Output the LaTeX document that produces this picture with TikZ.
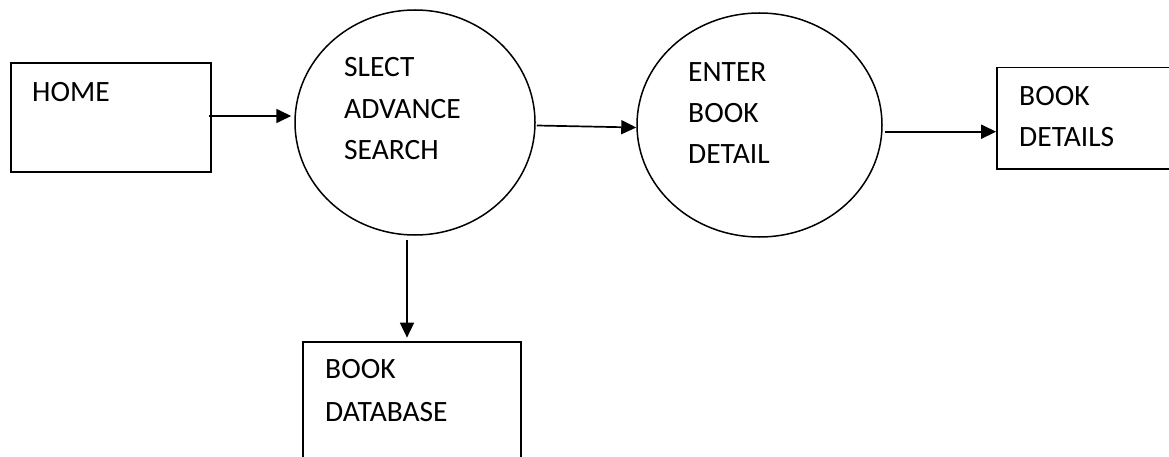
\documentclass[tikz,border=0pt]{standalone}
\usepackage{fontspec}
\setmainfont{Carlito}
\usetikzlibrary{arrows.meta,shapes.geometric}
\begin{document}
\begin{tikzpicture}[x=1pt,y=-1pt,
  box/.style={draw, line width=1.7pt, rectangle, inner sep=0pt},
  proc/.style={draw, line width=1.5pt, ellipse, inner sep=0pt},
  txt/.style={anchor=base west, inner sep=0pt, font=\fontsize{29.5}{41}\selectfont},
  arr/.style={line width=1.7pt, -{Triangle[length=15pt,width=14pt]}}]
\useasboundingbox (0,0) rectangle (1169,457);
% shapes
\node[box, minimum width=200pt, minimum height=108.5pt] (home) at (111,117.5) {};
\node[proc, minimum width=240pt, minimum height=225pt] (e1) at (415,122.5) {};
\node[proc, minimum width=245pt, minimum height=224pt] (e2) at (759.5,125) {};
\node[box, minimum width=175pt, minimum height=101.5pt] (det) at (1084.5,118.3) {};
\node[box, minimum width=218pt, minimum height=130pt] (db) at (412,407) {};
% texts
\node[txt] (thome) at (32,101.7) {HOME};
\node[txt] (ta1) at (344,76.7) {SLECT};
\node[txt] (ta2) at (344,118.3) {ADVANCE};
\node[txt] (ta3) at (344,159.3) {SEARCH};
\node[txt] (tb1) at (688,81.7) {ENTER};
\node[txt] (tb2) at (688,122.3) {BOOK};
\node[txt] (tb3) at (688,163.3) {DETAIL};
\node[txt] (tc1) at (1019,106) {BOOK};
\node[txt] (tc2) at (1019,146.7) {DETAILS};
\node[txt] (td1) at (325,378) {BOOK};
\node[txt] (td2) at (325,421.7) {DATABASE};
% connectors
\draw[arr] ([xshift=-3pt,yshift=1.5pt]home.east) -- ([xshift=-3pt,yshift=1.5pt]home.east -| e1.west);
\draw[arr] ([xshift=1pt,yshift=-3pt]e1.east) -- ([yshift=-2.5pt]e2.west);
\draw[arr] ([xshift=2pt,yshift=-6.7pt]e2.east) -- ([yshift=-6.7pt]e2.east -| det.west);
\draw[arr] ([xshift=-8pt,yshift=-4pt]e1.south) -- ([xshift=-8pt,yshift=3.5pt]e1.south |- db.north);
\end{tikzpicture}
\end{document}
